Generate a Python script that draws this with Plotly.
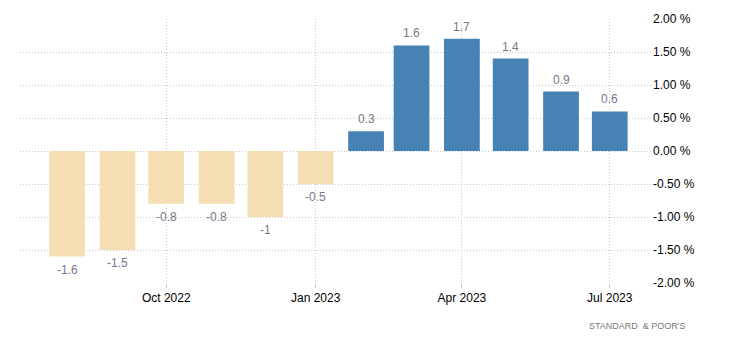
import plotly.graph_objects as go

# Monthly change, Aug 2022 - Jul 2023
months = ["2022-08-01", "2022-09-01", "2022-10-01", "2022-11-01", "2022-12-01", "2023-01-01",
          "2023-02-01", "2023-03-01", "2023-04-01", "2023-05-01", "2023-06-01", "2023-07-01"]
values = [-1.6, -1.5, -0.8, -0.8, -1, -0.5, 0.3, 1.6, 1.7, 1.4, 0.9, 0.6]
labels = ["-1.6", "-1.5", "-0.8", "-0.8", "-1", "-0.5", "0.3", "1.6", "1.7", "1.4", "0.9", "0.6"]

x_ticks = ["2022-10-01", "2023-01-01", "2023-04-01", "2023-07-01"]
x_ticktext = ["Oct 2022", "Jan 2023", "Apr 2023", "Jul 2023"]
y_ticks = [2.0, 1.5, 1.0, 0.5, 0.0, -0.5, -1.0, -1.5, -2.0]
y_ticktext = [f"{v:.2f} %" for v in y_ticks]

POS = "#4682B4"
NEG = "#F5DEB3"
LABEL_COLOR = "#77778a"
FONT = "Liberation Sans, Arial, sans-serif"
colors = [POS if v >= 0 else NEG for v in values]

DAY_MS = 86400000

fig = go.Figure(
    go.Bar(
        x=months,
        y=values,
        width=[22 * DAY_MS] * len(values),
        marker=dict(color=colors, line=dict(width=0)),
        hoverinfo="skip",
    )
)

# value labels: above positive bars, below negative ones
value_notes = [
    dict(
        x=m, y=v, xref="x", yref="y",
        text=t, showarrow=False,
        xanchor="center", yanchor="middle",
        yshift=12 if v >= 0 else -13,
        font=dict(family=FONT, size=12, color=LABEL_COLOR),
    )
    for m, v, t in zip(months, values, labels)
]

source_note = dict(
    text="STANDARD  &amp; POOR'S",
    xref="paper", yref="paper",
    x=(688 - 20) / (730 - 98), y=-(326 - 283) / (350 - 86),
    xanchor="right", yanchor="middle",
    showarrow=False,
    font=dict(family=FONT, size=9, color="#777777"),
)

fig.update_layout(
    width=730,
    height=350,
    margin=dict(l=20, r=78, t=19, b=67),
    paper_bgcolor="white",
    plot_bgcolor="white",
    showlegend=False,
    font=dict(family=FONT, size=12, color="#000000"),
    xaxis=dict(
        type="date",
        range=["2022-07-03", "2023-07-27"],
        tickvals=x_ticks,
        ticktext=x_ticktext,
        showgrid=True,
        gridcolor="#c8c8c8",
        griddash="1px,2px",
        gridwidth=1,
        ticks="outside",
        ticklen=4,
        tickcolor="#c8c8c8",
        showline=False,
        zeroline=False,
        tickfont=dict(size=12, color="#000000"),
    ),
    yaxis=dict(
        side="right",
        range=[-2.0, 2.0],
        tickvals=y_ticks,
        ticktext=y_ticktext,
        showgrid=True,
        gridcolor="#c8c8c8",
        griddash="1px,2px",
        gridwidth=1,
        zeroline=False,
        showline=False,
        ticks="",
        tickfont=dict(size=12, color="#000000"),
    ),
    annotations=value_notes + [source_note],
)

fig.write_html("out.html")
